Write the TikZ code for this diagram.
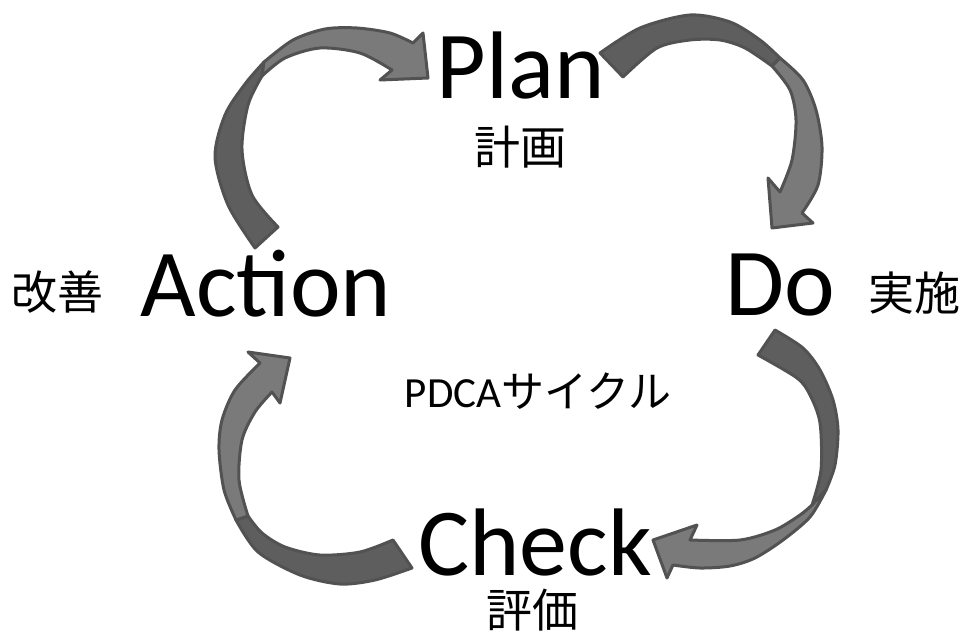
\documentclass[tikz,border=0pt]{standalone}
\usepackage{fontspec}
\setmainfont{Carlito}
\newfontfamily\jp{Noto Sans CJK JP}
\usepackage{tikz}

\begin{document}
\begin{tikzpicture}[x=1pt,y=-1pt]
        \tikzset{word/.style = {inner sep=0,text depth=0pt,font=\fontsize{96}{96}\selectfont}}
        \tikzset{kanji/.style = {inner sep=0,font=\jp\fontsize{46}{46}\selectfont}}
        \tikzset{title/.style = {inner sep=0,font=\fontsize{43}{43}\selectfont}}
        \tikzset{back/.style = {fill=black!63,draw=black!68,line width=3pt,line join=round}}
        \tikzset{front/.style = {fill=black!52,draw=black!68,line width=3pt,line join=round}}
        \useasboundingbox (0,0) rectangle (965,632);
        % words
        \node[word,anchor=base] (P) at (521,98) {Plan};
        \node[word,anchor=base] (D) at (780,315) {Do};
        \node[word,anchor=base] (C) at (535,575) {Check};
        \node[word,anchor=base] (A) at (266,316) {Action};
        \node[kanji] (p) at (520,147) {計画};
        \node[kanji] (d) at (914,293) {実施};
        \node[kanji] (c) at (532,610) {評価};
        \node[kanji] (a) at (57,292) {改善};
        \node[title,anchor=base] (t) at (538,407) {PDCA{\jp サイクル}};

        % arrow A to P
        \filldraw[back] plot[smooth] coordinates {(255,248) (228,205) (215,157) (225,115) (245,84) (264,62)}
          -- plot[smooth] coordinates {(262,76) (248,105) (242,150) (252,195) (278,227)} -- cycle;
        \filldraw[front] plot[smooth] coordinates {(264,62) (293,40) (325,29) (357,28) (390,33) (413,43)}
          -- (423,33) -- (428,78) -- (380,80) -- (392,70)
          -- plot[smooth] coordinates {(392,70) (360,53) (320,48) (285,58) (262,76)} -- cycle;
        % arrow P to D
        \filldraw[back] plot[smooth] coordinates {(600,53) (640,28) (690,15) (730,22) (760,40) (780,58)}
          -- plot[smooth] coordinates {(772,66) (745,48) (720,40) (690,40) (657,48) (623,77)} -- cycle;
        \filldraw[front] plot[smooth] coordinates {(780,58) (803,80) (816,110) (822,147) (818,185) (802,213)}
          -- (813,223) -- (772,228) -- (768,178) -- (780,192)
          -- plot[smooth] coordinates {(780,192) (792,160) (796,120) (790,90) (772,66)} -- cycle;
        % arrow D to C
        \filldraw[back] plot[smooth] coordinates {(775,330) (803,348) (820,370) (833,400) (838,430) (835,465) (826,490)}
          -- plot[smooth] coordinates {(812,505) (821,470) (820,423) (810,395) (797,378) (758,355)} -- cycle;
        \filldraw[front] plot[smooth] coordinates {(826,490) (810,517) (783,540) (755,558) (730,566) (700,568) (673,565)}
          -- (667,578) -- (653,540) -- (697,525) -- (690,540)
          -- plot[smooth] coordinates {(690,540) (740,540) (775,530) (800,515) (812,505)} -- cycle;
        % arrow C to A
        \filldraw[back] plot[smooth] coordinates {(236,520) (258,552) (300,575) (340,584) (375,580) (412,568)}
          -- plot[smooth] coordinates {(393,540) (360,552) (320,555) (285,547) (262,533) (248,516)} -- cycle;
        \filldraw[front] plot[smooth] coordinates {(236,520) (224,490) (219,450) (222,420) (235,390) (260,363)}
          -- (248,352) -- (290,358) -- (280,403) -- (272,392)
          -- plot[smooth] coordinates {(272,392) (255,412) (242,440) (239,480) (248,516)} -- cycle;
\end{tikzpicture}
\end{document}
